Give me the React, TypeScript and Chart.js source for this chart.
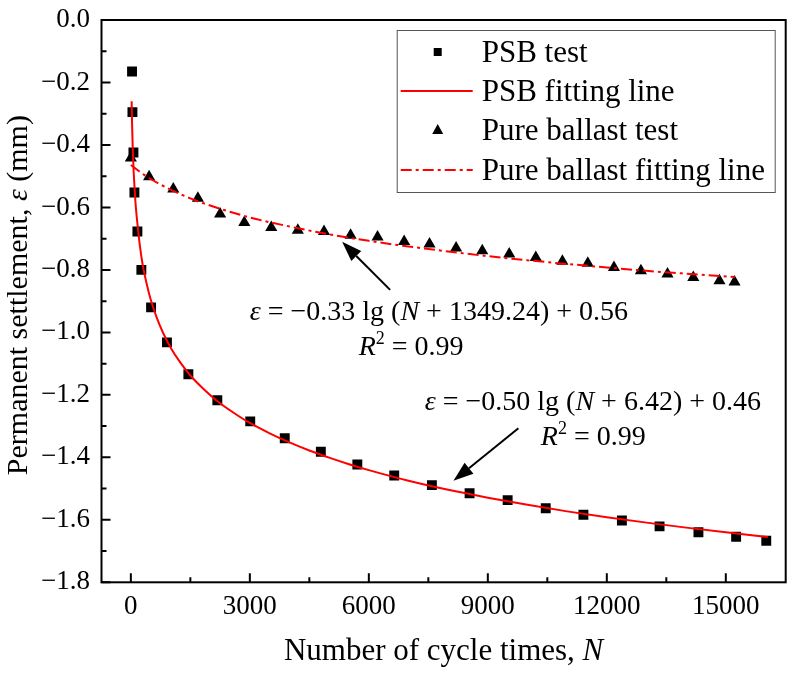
import { useEffect, useRef } from "react";
import { Chart, registerables, type Plugin } from "chart.js";

Chart.register(...registerables);

// PSB test (squares)
const psbN = [30, 40, 65, 90, 165, 265, 510, 910, 1450, 2180, 3010, 3880, 4790, 5710, 6640, 7590, 8540, 9500, 10460, 11410, 12380, 13330, 14310, 15260, 16020];
const psbEps = [-0.165, -0.295, -0.424, -0.552, -0.677, -0.8, -0.92, -1.032, -1.134, -1.217, -1.285, -1.339, -1.382, -1.423, -1.458, -1.489, -1.515, -1.537, -1.563, -1.584, -1.602, -1.621, -1.64, -1.654, -1.667];

// PSB fitting line
const psbFitN = [20, 30, 45, 65, 90, 120, 160, 220, 300, 400, 500, 650, 800, 1000, 1250, 1500, 1800, 2200, 2600, 3000, 3500, 4000, 4500, 5000, 5500, 6000, 7000, 8000, 9000, 10000, 11000, 12000, 13000, 14000, 15000, 16060];
const psbFitEps = [-0.26, -0.33, -0.4, -0.47, -0.53, -0.59, -0.645, -0.715, -0.785, -0.845, -0.895, -0.952, -0.998, -1.048, -1.097, -1.138, -1.177, -1.222, -1.258, -1.29, -1.323, -1.352, -1.378, -1.401, -1.422, -1.441, -1.475, -1.504, -1.529, -1.552, -1.573, -1.592, -1.609, -1.625, -1.64, -1.655];

// Pure ballast test (triangles)
const ballastN = [0, 460, 1070, 1690, 2250, 2860, 3540, 4210, 4870, 5540, 6220, 6890, 7530, 8200, 8860, 9540, 10210, 10880, 11520, 12180, 12860, 13530, 14180, 14840, 15220];
const ballastEps = [-0.442, -0.502, -0.541, -0.571, -0.621, -0.648, -0.664, -0.673, -0.677, -0.689, -0.695, -0.709, -0.717, -0.73, -0.739, -0.749, -0.76, -0.772, -0.779, -0.792, -0.803, -0.813, -0.824, -0.835, -0.839];

// Pure ballast fitting line (dash-dot)
const ballastFitN = [0, 250, 500, 1000, 1500, 2000, 3000, 4000, 5000, 6000, 7000, 8000, 9000, 10000, 11000, 12000, 13000, 14000, 15230];
const ballastFitEps = [-0.464, -0.488, -0.509, -0.543, -0.571, -0.594, -0.632, -0.661, -0.686, -0.707, -0.725, -0.741, -0.756, -0.769, -0.781, -0.792, -0.803, -0.812, -0.823];

// axes
const xMajor = [0, 3000, 6000, 9000, 12000, 15000];
const xMinor = [1500, 4500, 7500, 10500, 13500];
const yMajor = [0, -0.2, -0.4, -0.6, -0.8, -1.0, -1.2, -1.4, -1.6, -1.8];
const yMinor = [-0.1, -0.3, -0.5, -0.7, -0.9, -1.1, -1.3, -1.5, -1.7];

const legendLabels = ["PSB test", "PSB fitting line", "Pure ballast test", "Pure ballast fitting line"];

const FONT = '"Liberation Serif", "Times New Roman", serif';
const RED = "#ff0000";
const DASH_DOT = [11, 4, 3, 4];

type Seg = { t: string; i?: boolean; sup?: boolean };

function drawRich(ctx: CanvasRenderingContext2D, segs: Seg[], x: number, y: number, size: number, align: "left" | "center") {
  const font = (s: Seg) => `${s.i ? "italic " : ""}${s.sup ? Math.round(size * 0.64) : size}px ${FONT}`;
  let w = 0;
  for (const s of segs) {
    ctx.font = font(s);
    w += ctx.measureText(s.t).width;
  }
  let cx = align === "center" ? x - w / 2 : x;
  ctx.textAlign = "left";
  ctx.textBaseline = "alphabetic";
  for (const s of segs) {
    ctx.font = font(s);
    ctx.fillText(s.t, cx, s.sup ? y - size * 0.4 : y);
    cx += ctx.measureText(s.t).width;
  }
}

function arrow(ctx: CanvasRenderingContext2D, x0: number, y0: number, x1: number, y1: number) {
  const a = Math.atan2(y1 - y0, x1 - x0);
  const L = 20;
  const H = 7;
  const bx = x1 - L * Math.cos(a);
  const by = y1 - L * Math.sin(a);
  ctx.strokeStyle = "#000";
  ctx.lineWidth = 2;
  ctx.beginPath();
  ctx.moveTo(x0, y0);
  ctx.lineTo(bx, by);
  ctx.stroke();
  ctx.fillStyle = "#000";
  ctx.beginPath();
  ctx.moveTo(x1, y1);
  ctx.lineTo(bx + H * Math.sin(a), by - H * Math.cos(a));
  ctx.lineTo(bx - H * Math.sin(a), by + H * Math.cos(a));
  ctx.closePath();
  ctx.fill();
}

const decor: Plugin<"scatter"> = {
  id: "decor",
  beforeDraw(chart) {
    const { ctx, width, height } = chart;
    ctx.save();
    ctx.fillStyle = "#fff";
    ctx.fillRect(0, 0, width, height);
    ctx.restore();
  },
  afterDraw(chart) {
    const { ctx, chartArea: a } = chart;
    const xs = chart.scales.x;
    const ys = chart.scales.y;
    ctx.save();

    // frame
    ctx.strokeStyle = "#000";
    ctx.lineWidth = 2;
    ctx.strokeRect(a.left, a.top, a.right - a.left, a.bottom - a.top);

    // inward ticks
    ctx.beginPath();
    for (const v of xMajor) {
      const p = xs.getPixelForValue(v);
      ctx.moveTo(p, a.bottom);
      ctx.lineTo(p, a.bottom - 9);
    }
    for (const v of xMinor) {
      const p = xs.getPixelForValue(v);
      ctx.moveTo(p, a.bottom);
      ctx.lineTo(p, a.bottom - 5);
    }
    for (const v of yMajor) {
      const p = ys.getPixelForValue(v);
      ctx.moveTo(a.left, p);
      ctx.lineTo(a.left + 9, p);
    }
    for (const v of yMinor) {
      const p = ys.getPixelForValue(v);
      ctx.moveTo(a.left, p);
      ctx.lineTo(a.left + 5, p);
    }
    ctx.stroke();

    // axis titles
    ctx.fillStyle = "#000";
    drawRich(ctx, [{ t: "Number of cycle times, " }, { t: "N", i: true }], (a.left + a.right) / 2, 660, 31, "center");
    ctx.save();
    ctx.translate(27, (a.top + a.bottom) / 2 - 6);
    ctx.rotate(-Math.PI / 2);
    drawRich(ctx, [{ t: "Permanent settlement, " }, { t: "ε", i: true }, { t: " (mm)" }], 0, 0, 30, "center");
    ctx.restore();

    // equations
    const X = (v: number) => xs.getPixelForValue(v);
    const Y = (v: number) => ys.getPixelForValue(v);
    drawRich(ctx, [{ t: "ε", i: true }, { t: " = −0.33 lg (" }, { t: "N", i: true }, { t: " + 1349.24) + 0.56" }], X(2997), Y(-0.96), 28, "left");
    drawRich(ctx, [{ t: "R", i: true }, { t: "2", sup: true }, { t: " = 0.99" }], X(5745), Y(-1.072), 28, "left");
    drawRich(ctx, [{ t: "ε", i: true }, { t: " = −0.50 lg (" }, { t: "N", i: true }, { t: " + 6.42) + 0.46" }], X(7409), Y(-1.248), 28, "left");
    drawRich(ctx, [{ t: "R", i: true }, { t: "2", sup: true }, { t: " = 0.99" }], X(10336), Y(-1.36), 28, "left");

    arrow(ctx, X(6537), Y(-0.864), X(5327), Y(-0.71));
    arrow(ctx, X(9771), Y(-1.307), X(8133), Y(-1.475));

    // legend
    const lx = a.right - 389;
    const ly = a.top + 10;
    ctx.strokeStyle = "#555";
    ctx.lineWidth = 1;
    ctx.strokeRect(lx + 0.5, ly + 0.5, 378, 162);
    const rows = [ly + 22, ly + 61, ly + 100, ly + 140];
    const mx = lx + 41;
    ctx.fillStyle = "#000";
    ctx.fillRect(mx - 4, rows[0] - 4, 8, 8);
    ctx.beginPath();
    ctx.moveTo(mx, rows[2] - 6);
    ctx.lineTo(mx + 5.5, rows[2] + 4);
    ctx.lineTo(mx - 5.5, rows[2] + 4);
    ctx.closePath();
    ctx.fill();
    ctx.strokeStyle = RED;
    ctx.lineWidth = 2;
    ctx.beginPath();
    ctx.moveTo(lx + 4, rows[1]);
    ctx.lineTo(lx + 76, rows[1]);
    ctx.stroke();
    ctx.setLineDash(DASH_DOT);
    ctx.beginPath();
    ctx.moveTo(lx + 4, rows[3]);
    ctx.lineTo(lx + 76, rows[3]);
    ctx.stroke();
    ctx.setLineDash([]);
    ctx.fillStyle = "#000";
    legendLabels.forEach((t, i) => drawRich(ctx, [{ t }], lx + 85, rows[i] + 10, 31, "left"));

    ctx.restore();
  },
};

const zip = (xs: number[], ys: number[]) => xs.map((x, i) => ({ x, y: ys[i] }));

export default function App() {
  const ref = useRef<HTMLCanvasElement>(null);

  useEffect(() => {
    document.body.style.margin = "0";
    if (!ref.current) return;
    const tickFont = { family: FONT, size: 27 };
    const chart = new Chart(ref.current, {
      type: "scatter",
      data: {
        datasets: [
          {
            data: zip(psbFitN, psbFitEps),
            showLine: true,
            borderColor: RED,
            borderWidth: 2,
            pointRadius: 0,
            cubicInterpolationMode: "monotone",
            order: 0,
          },
          {
            data: zip(ballastFitN, ballastFitEps),
            showLine: true,
            borderColor: RED,
            borderWidth: 2,
            borderDash: DASH_DOT,
            pointRadius: 0,
            cubicInterpolationMode: "monotone",
            order: 0,
          },
          {
            data: zip(psbN, psbEps),
            pointStyle: "rect",
            pointRadius: 7,
            backgroundColor: "#000",
            borderWidth: 0,
            order: 1,
          },
          {
            data: zip(ballastN, ballastEps),
            pointStyle: "triangle",
            pointRadius: 7,
            backgroundColor: "#000",
            borderWidth: 0,
            order: 1,
          },
        ],
      },
      options: {
        responsive: false,
        animation: false,
        layout: { padding: { top: 20, right: 8.3, left: 0, bottom: 0 } },
        plugins: { legend: { display: false }, tooltip: { enabled: false } },
        scales: {
          x: {
            type: "linear",
            min: -740,
            max: 16510,
            grid: { display: false, drawTicks: false },
            border: { display: false },
            afterBuildTicks: (s) => {
              s.ticks = xMajor.map((value) => ({ value }));
            },
            afterFit: (s) => {
              s.height = 93.7;
              s.paddingLeft = 0;
              s.paddingRight = 0;
            },
            ticks: {
              font: tickFont,
              color: "#000",
              padding: 8,
              autoSkip: false,
              maxRotation: 0,
              callback: (v) => String(v),
            },
          },
          y: {
            type: "linear",
            min: -1.8,
            max: 0,
            grid: { display: false, drawTicks: false },
            border: { display: false },
            afterBuildTicks: (s) => {
              s.ticks = yMajor.map((value) => ({ value }));
            },
            afterFit: (s) => {
              s.width = 101.5;
              s.paddingTop = 0;
              s.paddingBottom = 0;
            },
            ticks: {
              font: tickFont,
              color: "#000",
              padding: 11.5,
              autoSkip: false,
              callback: (v) => Number(v).toFixed(1).replace("-", "\u2212"),
            },
          },
        },
      },
      plugins: [decor],
    });
    return () => {
      chart.destroy();
    };
  }, []);

  return <canvas ref={ref} width={794} height={676} style={{ display: "block" }} />;
}
